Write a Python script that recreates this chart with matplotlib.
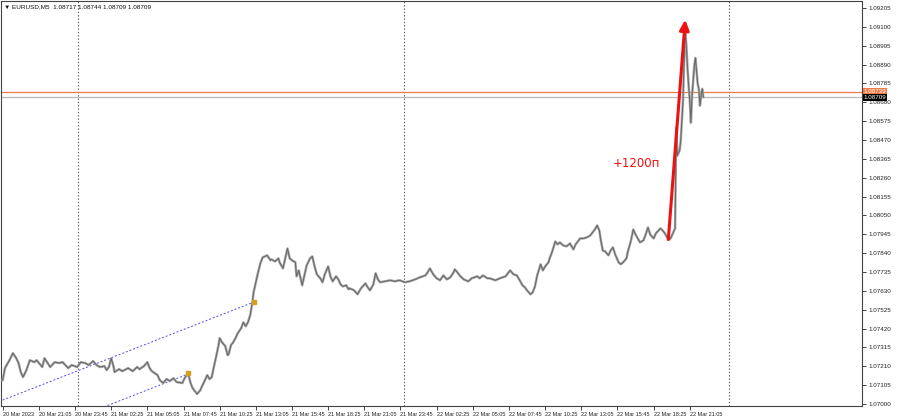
import matplotlib
matplotlib.use("Agg")
import matplotlib.pyplot as plt

# ---- data: bar index (5-minute bars from 20 Mar 2023 18:25) and price ----
bars = [0, 2, 6, 9, 12, 14, 16, 18, 21, 24, 28, 30, 35, 37, 42, 46, 50, 53, 58, 61,
        66, 69, 73, 76, 80, 83, 86, 90, 92, 94, 96, 98, 99, 103, 106, 111, 115, 119, 121, 125,
        128, 130, 132, 137, 139, 142, 145, 148, 151, 154, 159, 161, 164, 166, 168, 170, 172, 175, 176, 179,
        181, 183, 185, 187, 189, 191, 192, 194, 197, 199, 200, 202, 204, 206, 208, 211, 213, 215, 217, 219,
        221, 222, 224, 226, 228, 230, 232, 234, 237, 238, 241, 244, 245, 248, 250, 252, 254, 256, 259, 260,
        262, 265, 267, 269, 272, 274, 276, 278, 281, 283, 285, 288, 290, 292, 295, 297, 299, 301, 304, 306,
        307, 311, 314, 317, 321, 323, 325, 328, 330, 332, 334, 338, 343, 347, 351, 356, 360, 365, 369, 374,
        376, 378, 381, 384, 387, 390, 393, 396, 399, 400, 403, 405, 408, 412, 415, 420, 422, 425, 429, 431,
        436, 440, 445, 447, 449, 452, 455, 458, 460, 462, 464, 467, 469, 471, 473, 476, 478, 480, 483, 484,
        486, 489, 491, 493, 496, 499, 502, 505, 507, 511, 514, 517, 520, 522, 524, 526, 528, 529, 531, 533,
        536, 538, 540, 542, 545, 547, 549, 552, 553, 556, 558, 560, 562, 564, 567, 569, 571, 573, 576, 578,
        582, 584, 586, 589, 591, 593, 595, 596, 597, 599, 600, 601, 602, 603, 604, 605, 606, 607, 608, 609,
        610, 611, 612, 613, 614, 615, 616, 617, 618, 619, 620]
prices = [1.07133, 1.07200, 1.07244, 1.07283, 1.07255, 1.07228, 1.07178, 1.07150, 1.07189, 1.07244,
          1.07233, 1.07244, 1.07206, 1.07255, 1.07206, 1.07233, 1.07228, 1.07233, 1.07200, 1.07217,
          1.07206, 1.07233, 1.07228, 1.07217, 1.07239, 1.07217, 1.07206, 1.07211, 1.07189, 1.07206,
          1.07255, 1.07211, 1.07178, 1.07194, 1.07183, 1.07200, 1.07183, 1.07206, 1.07194, 1.07211,
          1.07233, 1.07200, 1.07183, 1.07161, 1.07133, 1.07117, 1.07139, 1.07128, 1.07144, 1.07122,
          1.07117, 1.07144, 1.07172, 1.07122, 1.07089, 1.07072, 1.07056, 1.07078, 1.07094, 1.07133,
          1.07161, 1.07139, 1.07150, 1.07211, 1.07267, 1.07328, 1.07367, 1.07344, 1.07322, 1.07272,
          1.07278, 1.07328, 1.07344, 1.07367, 1.07394, 1.07422, 1.07455, 1.07433, 1.07455, 1.07494,
          1.07567, 1.07622, 1.07678, 1.07733, 1.07783, 1.07816, 1.07822, 1.07828, 1.07800, 1.07805,
          1.07794, 1.07811, 1.07789, 1.07755, 1.07811, 1.07866, 1.07811, 1.07800, 1.07789, 1.07711,
          1.07744, 1.07661, 1.07716, 1.07772, 1.07811, 1.07822, 1.07766, 1.07722, 1.07700, 1.07678,
          1.07722, 1.07766, 1.07711, 1.07683, 1.07711, 1.07694, 1.07666, 1.07655, 1.07661, 1.07639,
          1.07644, 1.07633, 1.07611, 1.07644, 1.07672, 1.07650, 1.07633, 1.07666, 1.07728, 1.07694,
          1.07678, 1.07683, 1.07689, 1.07683, 1.07689, 1.07678, 1.07683, 1.07694, 1.07705, 1.07716,
          1.07733, 1.07755, 1.07722, 1.07700, 1.07689, 1.07716, 1.07694, 1.07705, 1.07733, 1.07750,
          1.07728, 1.07711, 1.07694, 1.07683, 1.07700, 1.07711, 1.07700, 1.07716, 1.07700, 1.07700,
          1.07689, 1.07700, 1.07711, 1.07728, 1.07744, 1.07722, 1.07716, 1.07683, 1.07661, 1.07650,
          1.07633, 1.07611, 1.07622, 1.07655, 1.07716, 1.07778, 1.07744, 1.07766, 1.07789, 1.07811,
          1.07844, 1.07905, 1.07889, 1.07900, 1.07883, 1.07878, 1.07894, 1.07861, 1.07889, 1.07922,
          1.07922, 1.07928, 1.07939, 1.07955, 1.07972, 1.07994, 1.07966, 1.07922, 1.07855, 1.07850,
          1.07828, 1.07855, 1.07872, 1.07833, 1.07789, 1.07778, 1.07789, 1.07811, 1.07844, 1.07911,
          1.07972, 1.07944, 1.07922, 1.07900, 1.07911, 1.07944, 1.07983, 1.07944, 1.07922, 1.07950,
          1.07978, 1.07966, 1.07950, 1.07916, 1.07922, 1.07950, 1.07978, 1.08539, 1.08383, 1.08411,
          1.08466, 1.08577, 1.08688, 1.08911, 1.09077, 1.08994, 1.08872, 1.08772, 1.08688, 1.08566,
          1.08716, 1.08800, 1.08883, 1.08927, 1.08855, 1.08783, 1.08755, 1.08661, 1.08716, 1.08755,
          1.08709]

header = "\u25BC EURUSD,M5  1.08717 1.08744 1.08709 1.08709"
y_ticks = [1.07000, 1.07105, 1.07210, 1.07315, 1.07420, 1.07525, 1.07630, 1.07735, 1.07840,
           1.07945, 1.08050, 1.08155, 1.08260, 1.08365, 1.08470, 1.08575, 1.08680, 1.08785,
           1.08890, 1.08995, 1.09100, 1.09205]
x_tick_bars = [0, 32, 64, 96, 128, 160, 192, 224, 256, 288, 320, 352, 384, 416, 448, 480,
               512, 544, 576, 608]
x_tick_labels = ["20 Mar 2023", "20 Mar 21:05", "20 Mar 23:45", "21 Mar 02:25", "21 Mar 05:05",
                 "21 Mar 07:45", "21 Mar 10:25", "21 Mar 13:05", "21 Mar 15:45", "21 Mar 18:25",
                 "21 Mar 21:05", "21 Mar 23:45", "22 Mar 02:25", "22 Mar 05:05", "22 Mar 07:45",
                 "22 Mar 10:25", "22 Mar 13:05", "22 Mar 15:45", "22 Mar 18:25", "22 Mar 21:05"]
day_separators = [67, 355, 643]
ask_price = 1.08739
bid_price = 1.08709
channel_upper = ([0, 222], [1.07022, 1.07567])
channel_lower = ([80, 164], [1.06960, 1.07167])
channel_marks = ([164, 222], [1.07172, 1.07567])
arrow_start = (589, 1.07916)
arrow_end = (604, 1.09140)
arrow_label = "+1200п"
arrow_label_pos = (561, 1.08339)

small_font = ["Liberation Sans", "DejaVu Sans"]

# ---- figure ----
fig = plt.figure(figsize=(9, 4.2), dpi=100)
ax = fig.add_axes([1 / 900, 14 / 420, 861 / 900, 405 / 420])
ax.set_xlim(-1.5, 760.4)
ax.set_ylim(1.06989, 1.09244)

for b in day_separators:
    ax.axvline(b, color="#555555", lw=0.8, ls=(0, (1.2, 1.8)), zorder=1)

ax.axhline(ask_price, color="#f07a45", lw=0.9, zorder=2)
ax.axhline(bid_price, color="#b8b8b8", lw=0.9, zorder=2)

ax.plot(*channel_upper, color="#4a4af0", lw=0.7, ls=(0, (2, 2)), zorder=2)
ax.plot(*channel_lower, color="#4a4af0", lw=0.7, ls=(0, (2, 2)), zorder=2)

ax.plot(bars, prices, color="#a8a8a8", lw=1.8, zorder=3)
ax.plot(bars, prices, color="#666666", lw=0.7, zorder=4)
ax.plot(*channel_marks, ls="none", marker="s", ms=2.2, color="#d6a020", zorder=5)

ax.annotate("", xy=arrow_end, xytext=arrow_start,
            arrowprops=dict(arrowstyle="-|>,head_length=0.6,head_width=0.28",
                            color="#ee1111", lw=2.2, shrinkA=0, shrinkB=0), zorder=6)
ax.text(*arrow_label_pos, arrow_label, color="#ee1111", fontsize=8.5,
        ha="center", va="center", zorder=6)

ax.text(0.004, 0.992, header, transform=ax.transAxes, fontsize=4.6,
        ha="left", va="top", color="#111111", family=small_font)

# axes styling
ax.yaxis.tick_right()
ax.set_yticks(y_ticks)
ax.set_yticklabels([f"{v:.5f}" for v in y_ticks], family=small_font)
ax.tick_params(axis="y", direction="out", length=3, width=0.6, labelsize=4.5,
               pad=1.5, colors="#222222")
ax.set_xticks(x_tick_bars)
ax.set_xticklabels(x_tick_labels, ha="left", family=small_font)
ax.tick_params(axis="x", direction="out", length=3, width=0.6, labelsize=4.0,
               pad=1.5, colors="#222222")
for s in ax.spines.values():
    s.set_color("#444444")
    s.set_linewidth(0.8)

# price labels on the right axis
ax.text(1.002, ask_price, f"{ask_price:.5f}", transform=ax.get_yaxis_transform(),
        fontsize=4.5, color="white", va="center", ha="left", family=small_font,
        bbox=dict(boxstyle="square,pad=0.15", fc="#f07a45", ec="none"), zorder=7,
        clip_on=False)
ax.text(1.002, bid_price, f"{bid_price:.5f}", transform=ax.get_yaxis_transform(),
        fontsize=4.5, color="white", va="center", ha="left", family=small_font,
        bbox=dict(boxstyle="square,pad=0.15", fc="#000000", ec="none"), zorder=7,
        clip_on=False)

fig.savefig("out.png", dpi=100, facecolor="white")
